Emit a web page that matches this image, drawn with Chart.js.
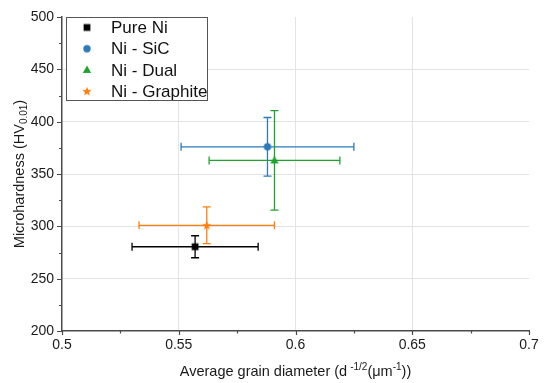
<!DOCTYPE html>
<html>
<head>
<meta charset="utf-8">
<script src="https://cdn.jsdelivr.net/npm/chart.js@4/dist/chart.umd.min.js"></script>
<style>
html,body{margin:0;padding:0;background:#fff;}
#wrap{width:550px;height:383px;position:relative;}
</style>
</head>
<body>
<div id="wrap"><canvas id="c" width="550" height="383"></canvas></div>
<script>
// ---- data ----
const seriesNames = ['Pure Ni', 'Ni - SiC', 'Ni - Dual', 'Ni - Graphite'];
const grainDiameter = [0.557, 0.588, 0.591, 0.562];
const grainDiameterErr = [0.027, 0.037, 0.028, 0.029];
const microhardness = [280.5, 376, 363, 301];
const microhardnessErr = [10.5, 28, 47.5, 17.5];
const xTickLabels = ['0.5', '0.55', '0.6', '0.65', '0.7'];
const yTickLabels = ['200', '250', '300', '350', '400', '450', '500'];
const xTitleParts = ['Average grain diameter (d', '-1/2', '(μm', '-1', '))'];
const yTitleParts = ['Microhardness (HV', '0.01', ')'];

// ---- styles ----
const colors = ['#000000', '#2b7bba', '#1fa32e', '#ff7f0e'];
const shapes = ['square', 'circle', 'triangle', 'star'];
const FONT = "'Liberation Sans', Arial, sans-serif";
const AXIS_COLOR = '#4a4a4a';

function markerCanvas(shape, color) {
  const s = 16, c = document.createElement('canvas');
  c.width = s; c.height = s;
  const g = c.getContext('2d');
  g.fillStyle = color;
  const m = s / 2;
  g.beginPath();
  if (shape === 'square') {
    g.rect(m - 3.4, m - 3.4, 6.8, 6.8);
  } else if (shape === 'circle') {
    g.arc(m, m, 3.7, 0, Math.PI * 2);
  } else if (shape === 'triangle') {
    g.moveTo(m, m - 4.4); g.lineTo(m + 4.2, m + 3.1); g.lineTo(m - 4.2, m + 3.1); g.closePath();
  } else if (shape === 'star') {
    const R = 4.8, r = 2.1;
    for (let i = 0; i < 10; i++) {
      const a = -Math.PI / 2 + i * Math.PI / 5;
      const rr = i % 2 === 0 ? R : r;
      const px = m + rr * Math.cos(a), py = m + 0.5 + rr * Math.sin(a);
      if (i === 0) g.moveTo(px, py); else g.lineTo(px, py);
    }
    g.closePath();
  }
  g.fill();
  return c;
}
const markers = shapes.map((s, i) => markerCanvas(s, colors[i]));

const datasets = seriesNames.map((name, i) => ({
  label: name,
  data: [{ x: grainDiameter[i], y: microhardness[i] }],
  pointStyle: markers[i],
  borderColor: colors[i],
  backgroundColor: colors[i],
  pointRadius: 4,
  xErr: grainDiameterErr[i],
  yErr: microhardnessErr[i],
}));

const isMajorX = v => Math.abs(Math.round(v * 1000) % 50) === 0;
const isMajorY = v => Math.round(v) % 50 === 0;

const errorBars = {
  id: 'errorBars',
  beforeDatasetsDraw(chart) {
    const { ctx, scales: { x, y } } = chart;
    const cap = 4;
    chart.data.datasets.forEach(ds => {
      const p = ds.data[0];
      const cx = x.getPixelForValue(p.x), cy = y.getPixelForValue(p.y);
      const x0 = x.getPixelForValue(p.x - ds.xErr), x1 = x.getPixelForValue(p.x + ds.xErr);
      const y0 = y.getPixelForValue(p.y - ds.yErr), y1 = y.getPixelForValue(p.y + ds.yErr);
      ctx.save();
      ctx.strokeStyle = ds.borderColor;
      ctx.lineWidth = 1.3;
      ctx.beginPath();
      ctx.moveTo(x0, cy); ctx.lineTo(x1, cy);
      ctx.moveTo(x0, cy - cap); ctx.lineTo(x0, cy + cap);
      ctx.moveTo(x1, cy - cap); ctx.lineTo(x1, cy + cap);
      ctx.moveTo(cx, y0); ctx.lineTo(cx, y1);
      ctx.moveTo(cx - cap, y0); ctx.lineTo(cx + cap, y0);
      ctx.moveTo(cx - cap, y1); ctx.lineTo(cx + cap, y1);
      ctx.stroke();
      ctx.restore();
    });
  }
};

const axisDecor = {
  id: 'axisDecor',
  afterDraw(chart) {
    const { ctx, scales: { x, y }, chartArea: a } = chart;
    ctx.save();
    ctx.strokeStyle = AXIS_COLOR;
    ctx.lineWidth = 1.2;
    ctx.beginPath();
    x.ticks.forEach(t => {
      const px = Math.round(x.getPixelForValue(t.value)) + 0.5;
      const len = isMajorX(t.value) ? 4 : 2.5;
      ctx.moveTo(px, a.bottom); ctx.lineTo(px, a.bottom + len);
    });
    y.ticks.forEach(t => {
      const py = Math.round(y.getPixelForValue(t.value)) + 0.5;
      const len = isMajorY(t.value) ? 5 : 3;
      ctx.moveTo(a.left, py); ctx.lineTo(a.left - len, py);
    });
    ctx.stroke();

    // axis titles with sub/superscripts
    ctx.fillStyle = '#1a1a1a';
    ctx.textBaseline = 'alphabetic';
    const big = '14.5px ' + FONT, small = '10px ' + FONT;
    // x title
    ctx.font = big; const w0 = ctx.measureText(xTitleParts[0]).width;
    ctx.font = small; const w1 = ctx.measureText(xTitleParts[1]).width + 3;
    ctx.font = big; const w2 = ctx.measureText(xTitleParts[2]).width;
    ctx.font = small; const w3 = ctx.measureText(xTitleParts[3]).width;
    ctx.font = big; const w4 = ctx.measureText(xTitleParts[4]).width;
    const total = w0 + w1 + w2 + w3 + w4;
    let xx = (a.left + a.right) / 2 - total / 2;
    const by = 376;
    ctx.textAlign = 'left';
    ctx.font = big; ctx.fillText(xTitleParts[0], xx, by); xx += w0 + 3;
    ctx.font = small; ctx.fillText(xTitleParts[1], xx, by - 6); xx += w1 - 3;
    ctx.font = big; ctx.fillText(xTitleParts[2], xx, by); xx += w2;
    ctx.font = small; ctx.fillText(xTitleParts[3], xx, by - 6); xx += w3;
    ctx.font = big; ctx.fillText(xTitleParts[4], xx, by);

    // y title
    ctx.font = big; const v0 = ctx.measureText(yTitleParts[0]).width;
    ctx.font = small; const v1 = ctx.measureText(yTitleParts[1]).width;
    ctx.font = big; const v2 = ctx.measureText(yTitleParts[2]).width;
    const vt = v0 + v1 + v2;
    ctx.translate(24, (a.top + a.bottom) / 2);
    ctx.rotate(-Math.PI / 2);
    let yy = -vt / 2;
    ctx.font = big; ctx.fillText(yTitleParts[0], yy, 0); yy += v0;
    ctx.font = small; ctx.fillText(yTitleParts[1], yy, 3); yy += v1;
    ctx.font = big; ctx.fillText(yTitleParts[2], yy, 0);
    ctx.restore();

    // legend
    ctx.save();
    const lx = 66.5, ly = 17.5, lw = 141, lh = 83;
    ctx.fillStyle = '#ffffff';
    ctx.fillRect(lx, ly, lw, lh);
    ctx.strokeStyle = '#555';
    ctx.lineWidth = 1;
    ctx.strokeRect(lx, ly, lw, lh);
    ctx.font = '17px ' + FONT;
    ctx.fillStyle = '#111';
    ctx.textBaseline = 'middle';
    ctx.textAlign = 'left';
    chart.data.datasets.forEach((ds, i) => {
      const ry = 27.5 + i * 21.2;
      const m = ds.pointStyle;
      ctx.drawImage(m, 87 - m.width / 2, ry - m.height / 2);
      ctx.fillText(ds.label, 111, ry + 1);
    });
    ctx.restore();
  }
};

new Chart(document.getElementById('c'), {
  type: 'scatter',
  data: { datasets },
  options: {
    responsive: false,
    animation: false,
    devicePixelRatio: 1,
    layout: { padding: { top: 17, right: 21, left: 0, bottom: 0 } },
    plugins: { legend: { display: false }, tooltip: { enabled: false } },
    scales: {
      x: {
        type: 'linear', min: 0.5, max: 0.7,
        afterFit(s) { s.height = 52; },
        border: { display: true, color: AXIS_COLOR, width: 1.5 },
        grid: {
          drawTicks: false,
          color: c => (c.tick && isMajorX(c.tick.value) && c.tick.value > 0.501 && c.tick.value < 0.699) ? '#e4e4e4' : 'rgba(0,0,0,0)',
          lineWidth: 1
        },
        ticks: {
          stepSize: 0.025, autoSkip: false, maxRotation: 0, padding: 6,
          color: '#1a1a1a', font: { family: FONT, size: 14 },
          callback: v => isMajorX(v) ? xTickLabels[Math.round((v - 0.5) / 0.05)] : ''
        }
      },
      y: {
        type: 'linear', min: 200, max: 500,
        afterFit(s) { s.width = 62; },
        border: { display: true, color: AXIS_COLOR, width: 1.5 },
        grid: {
          drawTicks: false,
          color: c => (c.tick && isMajorY(c.tick.value) && c.tick.value > 200 && c.tick.value < 500) ? '#e4e4e4' : 'rgba(0,0,0,0)',
          lineWidth: 1
        },
        ticks: {
          stepSize: 25, autoSkip: false, padding: 8,
          color: '#1a1a1a', font: { family: FONT, size: 14 },
          callback: v => isMajorY(v) ? yTickLabels[Math.round((v - 200) / 50)] : ''
        }
      }
    }
  },
  plugins: [errorBars, axisDecor]
});
</script>
</body>
</html>
